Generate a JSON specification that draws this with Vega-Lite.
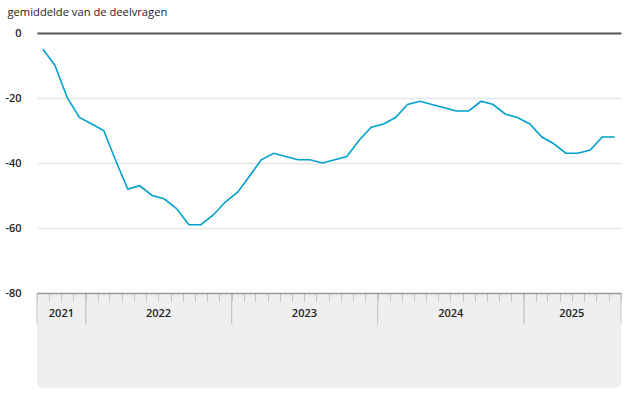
{
  "$schema": "https://vega.github.io/schema/vega-lite/v6.json",
  "width": 584,
  "height": 355,
  "autosize": {"type": "none"},
  "padding": {"left": 37, "top": 33, "right": 5, "bottom": 29},
  "background": "white",
  "config": {"view": {"stroke": null}, "font": "Open Sans"},
  "datasets": {
    "conf": [
      {"month": "2021-09-16", "value": -5},
      {"month": "2021-10-16", "value": -10},
      {"month": "2021-11-16", "value": -20},
      {"month": "2021-12-16", "value": -26},
      {"month": "2022-01-16", "value": -28},
      {"month": "2022-02-15", "value": -30},
      {"month": "2022-03-16", "value": -39},
      {"month": "2022-04-16", "value": -48},
      {"month": "2022-05-16", "value": -47},
      {"month": "2022-06-16", "value": -50},
      {"month": "2022-07-16", "value": -51},
      {"month": "2022-08-16", "value": -54},
      {"month": "2022-09-16", "value": -59},
      {"month": "2022-10-16", "value": -59},
      {"month": "2022-11-16", "value": -56},
      {"month": "2022-12-16", "value": -52},
      {"month": "2023-01-16", "value": -49},
      {"month": "2023-02-15", "value": -44},
      {"month": "2023-03-16", "value": -39},
      {"month": "2023-04-16", "value": -37},
      {"month": "2023-05-16", "value": -38},
      {"month": "2023-06-16", "value": -39},
      {"month": "2023-07-16", "value": -39},
      {"month": "2023-08-16", "value": -40},
      {"month": "2023-09-16", "value": -39},
      {"month": "2023-10-16", "value": -38},
      {"month": "2023-11-16", "value": -33},
      {"month": "2023-12-16", "value": -29},
      {"month": "2024-01-16", "value": -28},
      {"month": "2024-02-15", "value": -26},
      {"month": "2024-03-16", "value": -22},
      {"month": "2024-04-16", "value": -21},
      {"month": "2024-05-16", "value": -22},
      {"month": "2024-06-16", "value": -23},
      {"month": "2024-07-16", "value": -24},
      {"month": "2024-08-16", "value": -24},
      {"month": "2024-09-16", "value": -21},
      {"month": "2024-10-16", "value": -22},
      {"month": "2024-11-16", "value": -25},
      {"month": "2024-12-16", "value": -26},
      {"month": "2025-01-16", "value": -28},
      {"month": "2025-02-15", "value": -32},
      {"month": "2025-03-16", "value": -34},
      {"month": "2025-04-16", "value": -37},
      {"month": "2025-05-16", "value": -37},
      {"month": "2025-06-16", "value": -36},
      {"month": "2025-07-16", "value": -32},
      {"month": "2025-08-16", "value": -32}
    ],
    "years": [
      {"year": "2021", "start": "2021-09-01", "end": "2022-01-01", "mid": "2021-11-01"},
      {"year": "2022", "start": "2022-01-01", "end": "2023-01-01", "mid": "2022-07-02"},
      {"year": "2023", "start": "2023-01-01", "end": "2024-01-01", "mid": "2023-07-02"},
      {"year": "2024", "start": "2024-01-01", "end": "2025-01-01", "mid": "2024-07-02"},
      {"year": "2025", "start": "2025-01-01", "end": "2025-09-01", "mid": "2025-05-01"}
    ]
  },
  "layer": [
    {
      "data": {"values": [{}]},
      "mark": {"type": "rect", "fill": "#efefef", "cornerRadiusBottomLeft": 6, "cornerRadiusBottomRight": 6},
      "encoding": {
        "x": {
          "datum": {"year": 2021, "month": 9, "date": 1, "utc": true}, "type": "temporal",
          "scale": {"type": "utc", "domain": [{"year": 2021, "month": 9, "date": 1, "utc": true}, {"year": 2025, "month": 9, "date": 1, "utc": true}]},
          "axis": {
            "orient": "bottom", "offset": -95, "title": null, "zindex": 1,
            "domain": true, "domainColor": "#999", "domainWidth": 1.5,
            "ticks": true, "tickCount": {"interval": "month", "step": 1}, "tickSize": 8, "tickColor": "#c4c4c4", "tickWidth": 1,
            "labels": false, "grid": false
          }
        },
        "x2": {"datum": {"year": 2025, "month": 9, "date": 1, "utc": true}},
        "y": {
          "datum": -80, "type": "quantitative",
          "scale": {"domain": [-109.23, 0], "nice": false, "zero": false},
          "axis": {
            "values": [0, -20, -40, -60, -80],
            "domain": false, "ticks": false,
            "labelPadding": 16, "labelFontSize": 11, "labelFontWeight": 600, "labelColor": "#222",
            "labelExpr": "datum.value + ''",
            "grid": true,
            "gridColor": {"condition": {"test": "datum.value === 0", "value": "#555"}, "value": "#e6e6e6"},
            "gridWidth": {"condition": {"test": "datum.value === 0", "value": 2}, "value": 1.5},
            "gridOpacity": {"condition": {"test": "datum.value === -80", "value": 0}, "value": 1},
            "title": "gemiddelde van de deelvragen",
            "titleAngle": 0, "titleAlign": "left", "titleBaseline": "alphabetic",
            "titleX": -30, "titleY": -18,
            "titleFontSize": 11.2, "titleFontWeight": "normal", "titleColor": "#222"
          }
        },
        "y2": {"datum": -109.23}
      }
    },
    {
      "data": {"name": "years"},
      "mark": {"type": "rule", "color": "#c8c8c8", "strokeWidth": 1},
      "encoding": {
        "x": {"field": "start", "type": "temporal"},
        "y": {"datum": -80, "type": "quantitative"},
        "y2": {"datum": -89.7}
      }
    },
    {
      "data": {"name": "years"},
      "mark": {"type": "rule", "color": "#c8c8c8", "strokeWidth": 1},
      "encoding": {
        "x": {"field": "end", "type": "temporal"},
        "y": {"datum": -80, "type": "quantitative"},
        "y2": {"datum": -89.7}
      }
    },
    {
      "data": {"name": "years"},
      "mark": {"type": "text", "fontSize": 11, "fontWeight": 600, "color": "#222", "baseline": "middle", "align": "center"},
      "encoding": {
        "x": {"field": "mid", "type": "temporal"},
        "y": {"datum": -86.4, "type": "quantitative"},
        "text": {"field": "year"}
      }
    },
    {
      "data": {"name": "conf"},
      "mark": {"type": "line", "color": "#00a1cd", "strokeWidth": 1.6},
      "encoding": {
        "x": {"field": "month", "type": "temporal"},
        "y": {"field": "value", "type": "quantitative"}
      }
    }
  ]
}
